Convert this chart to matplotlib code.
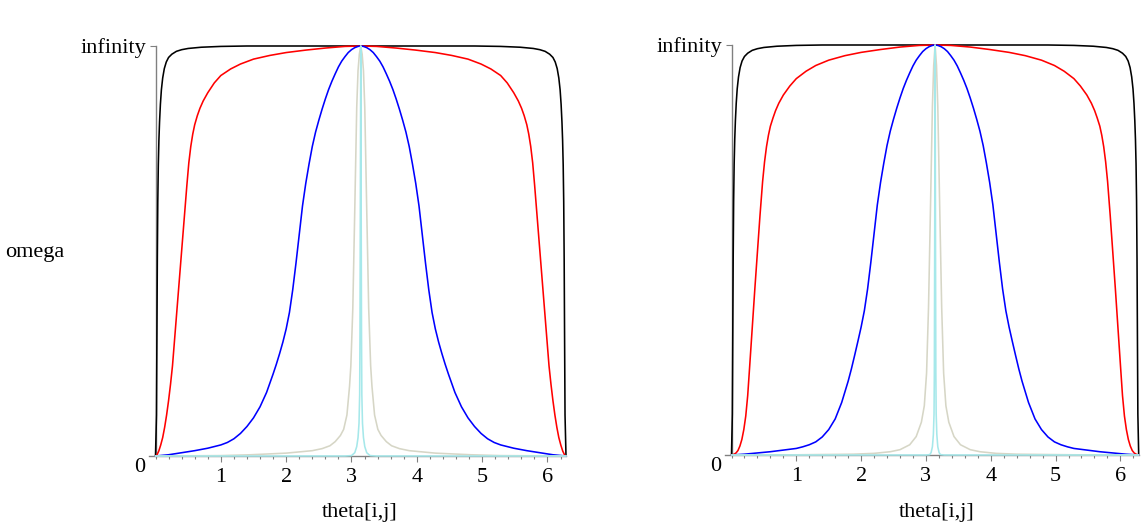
import numpy as np
import matplotlib
matplotlib.use("Agg")
import matplotlib.pyplot as plt
from matplotlib.ticker import MultipleLocator

PI = np.pi
TWO_PI = 2 * np.pi

# ---- data (left half, theta in [0, pi]; curves are mirror-symmetric about pi) ----
# Left panel
L_black_t = [0.0, 0.015, 0.022, 0.028, 0.035, 0.043, 0.052, 0.062, 0.075, 0.09, 0.11, 0.135, 0.165, 0.20, 0.25, 0.32, 0.40, 0.50, 0.70, 1.0, 1.4, PI]
L_black_y = [0.0, 0.10, 0.30, 0.48, 0.62, 0.71, 0.77, 0.815, 0.858, 0.893, 0.922, 0.945, 0.961, 0.972, 0.98, 0.987, 0.991, 0.994, 0.997, 0.999, 1.0, 1.0]

L_red_t = [0.0, 0.02, 0.05, 0.08, 0.11, 0.14, 0.17, 0.20, 0.23, 0.26, 0.30, 0.35, 0.40, 0.45, 0.48, 0.51, 0.54, 0.57,
           0.60, 0.64, 0.68, 0.73, 0.80, 0.90, 1.0, 1.15, 1.3, 1.5, 1.75, 2.0, 2.3, 2.6, 2.9, PI]
L_red_y = [0.0, 0.002, 0.012, 0.027, 0.045, 0.07, 0.10, 0.135, 0.175, 0.22, 0.30, 0.40, 0.50, 0.60, 0.66, 0.715, 0.755, 0.785,
           0.808, 0.83, 0.848, 0.866, 0.886, 0.91, 0.928, 0.944, 0.956, 0.968, 0.977, 0.984, 0.99, 0.995, 0.999, 1.0]

L_blue_t = [0.0, 0.2, 0.4, 0.6, 0.8, 1.0, 1.1, 1.2, 1.3, 1.4, 1.5, 1.6, 1.7, 1.8, 1.85, 1.9, 1.95, 2.0, 2.05, 2.10,
            2.15, 2.20, 2.25, 2.30, 2.35, 2.40, 2.45, 2.50, 2.55, 2.60, 2.65, 2.70, 2.75, 2.80, 2.85, 2.90, 2.95, 3.00,
            3.05, 3.10, PI]
L_blue_y = [0.0, 0.003, 0.008, 0.013, 0.019, 0.027, 0.033, 0.042, 0.055, 0.072, 0.093, 0.12, 0.155, 0.20, 0.224, 0.25, 0.278, 0.31, 0.35, 0.405,
            0.47, 0.54, 0.61, 0.665, 0.712, 0.755, 0.79, 0.819, 0.846, 0.871, 0.894, 0.914, 0.932, 0.949, 0.963, 0.974, 0.984, 0.991,
            0.996, 0.999, 1.0]

L_grey_t = [0.0, 1.0, 1.45, 2.0, 2.2, 2.4, 2.55, 2.67, 2.75, 2.83, 2.88, 2.93, 2.97, 2.99, 3.02, 3.05, 3.08, 3.10, 3.12, PI]
L_grey_y = [0.0, 0.001, 0.003, 0.007, 0.010, 0.013, 0.018, 0.025, 0.035, 0.05, 0.065, 0.10, 0.17, 0.22, 0.36, 0.60, 0.85, 0.94, 0.98, 1.0]

L_cyan_t = [0.0, 2.9, 3.0, 3.05, 3.08, 3.10, 3.115, 3.125, 3.13, 3.135, PI]
L_cyan_y = [0.0, 0.0, 0.001, 0.008, 0.023, 0.045, 0.08, 0.15, 0.30, 0.60, 1.0]

# Right panel
R_black_t = [0.0, 0.013, 0.02, 0.026, 0.033, 0.041, 0.05, 0.06, 0.073, 0.088, 0.108, 0.133, 0.163, 0.20, 0.25, 0.32, 0.40, 0.50, 0.70, 1.0, 1.4, PI]
R_black_y = [0.0, 0.10, 0.30, 0.48, 0.62, 0.71, 0.77, 0.815, 0.858, 0.893, 0.922, 0.945, 0.961, 0.972, 0.98, 0.987, 0.991, 0.994, 0.997, 0.999, 1.0, 1.0]

R_red_t = [0.0, 0.04, 0.07, 0.10, 0.13, 0.16, 0.19, 0.22, 0.25, 0.28, 0.32, 0.36, 0.40, 0.44, 0.48, 0.51, 0.54, 0.57,
           0.60, 0.64, 0.68, 0.73, 0.80, 0.90, 1.0, 1.15, 1.3, 1.5, 1.75, 2.0, 2.3, 2.6, 2.9, PI]
R_red_y = [0.0, 0.002, 0.005, 0.011, 0.022, 0.038, 0.062, 0.095, 0.145, 0.215, 0.31, 0.405, 0.495, 0.585, 0.667, 0.715, 0.752, 0.78,
           0.802, 0.822, 0.84, 0.858, 0.878, 0.90, 0.918, 0.936, 0.95, 0.963, 0.974, 0.982, 0.989, 0.995, 0.999, 1.0]

R_blue_t = [0.0, 0.2, 0.4, 0.6, 0.8, 1.0, 1.1, 1.2, 1.3, 1.4, 1.5, 1.6, 1.7, 1.8, 1.85, 1.9, 1.95, 2.0, 2.05, 2.10,
            2.15, 2.20, 2.25, 2.30, 2.35, 2.40, 2.45, 2.50, 2.55, 2.60, 2.65, 2.70, 2.75, 2.80, 2.85, 2.90, 2.95, 3.00,
            3.05, 3.10, PI]
R_blue_y = [0.0, 0.002, 0.005, 0.008, 0.012, 0.016, 0.02, 0.025, 0.032, 0.044, 0.062, 0.088, 0.128, 0.18, 0.21, 0.243, 0.277, 0.312, 0.352, 0.405,
            0.47, 0.54, 0.61, 0.665, 0.712, 0.755, 0.79, 0.819, 0.846, 0.871, 0.894, 0.914, 0.932, 0.949, 0.963, 0.974, 0.984, 0.991,
            0.996, 0.999, 1.0]

R_grey_t = [0.0, 1.0, 1.88, 2.2, 2.45, 2.6, 2.75, 2.85, 2.93, 2.975, 3.01, 3.04, 3.07, 3.10, 3.12, PI]
R_grey_y = [0.0, 0.0005, 0.002, 0.004, 0.008, 0.013, 0.025, 0.045, 0.08, 0.12, 0.20, 0.36, 0.60, 0.85, 0.95, 1.0]

R_cyan_t = [0.0, 3.0, 3.06, 3.08, 3.10, 3.115, 3.125, 3.13, 3.135, PI]
R_cyan_y = [0.0, 0.0, 0.001, 0.006, 0.02, 0.05, 0.10, 0.20, 0.50, 1.0]

x_ticks = [1, 2, 3, 4, 5, 6]
x_tick_labels = ["1", "2", "3", "4", "5", "6"]
y_top_label = "infinity"
y_bottom_label = "0"
x_label = "theta[i,j]"
y_label = "omega"

COLORS = ["#000000", "#ff0000", "#0000ff", "#d6d6c6", "#a6e8ea"]
SERIF = ["Liberation Serif", "DejaVu Serif"]
FS = 16
AXC = "#808080"


def mirror(t, y):
    t = np.asarray(t, float)
    y = np.asarray(y, float)
    tt = np.concatenate([t, TWO_PI - t[::-1][1:]])
    yy = np.concatenate([y, y[::-1][1:]])
    return tt, yy


W, H = 1146, 527
fig = plt.figure(figsize=(W / 100, H / 100), dpi=100)


def make_panel(px_left, px_right, px_bottom, px_top, series, label_x):
    ax = fig.add_axes([px_left / W, 1 - px_bottom / H, (px_right - px_left) / W, (px_bottom - px_top) / H])
    ax.set_xlim(0, TWO_PI)
    ax.set_ylim(0, 1)
    for s in ax.spines.values():
        s.set_visible(False)
    ax.patch.set_visible(False)
    # axes lines (Maple style)
    ax.plot([-0.1, TWO_PI], [0, 0], color=AXC, lw=1.0, clip_on=False, zorder=1)
    ax.plot([0, 0], [0, 1], color=AXC, lw=1.0, clip_on=False, zorder=1)
    for (t, y), c in zip(series, COLORS):
        tt, yy = mirror(t, y)
        ax.plot(tt, yy, color=c, lw=1.15, clip_on=False, zorder=2, solid_joinstyle="round")
    ax.set_xticks(x_ticks)
    ax.set_xticklabels(x_tick_labels, fontfamily=SERIF, fontsize=FS)
    ax.xaxis.set_minor_locator(MultipleLocator(0.2))
    ax.tick_params(axis="x", which="major", direction="out", length=4, width=0.8, color=AXC, pad=4.5)
    ax.tick_params(axis="x", which="minor", direction="out", length=2.5, width=0.8, color=AXC)
    ax.set_yticks([1])
    ax.set_yticklabels([y_top_label], fontfamily=SERIF, fontsize=FS)
    ax.tick_params(axis="y", which="major", direction="out", length=4.3, width=0.8, color=AXC, pad=2)
    ax.text(-0.24, -0.028, y_bottom_label, fontfamily=SERIF, fontsize=FS, ha="center", va="center")
    fig.text(label_x / W, 1 - 512 / H, x_label, fontfamily=SERIF, fontsize=FS, ha="center", va="center")
    return ax


make_panel(155.5, 566.0, 456, 46,
           [(L_black_t, L_black_y), (L_red_t, L_red_y), (L_blue_t, L_blue_y), (L_grey_t, L_grey_y), (L_cyan_t, L_cyan_y)],
           360)
make_panel(731.5, 1138.7, 455, 45,
           [(R_black_t, R_black_y), (R_red_t, R_red_y), (R_blue_t, R_blue_y), (R_grey_t, R_grey_y), (R_cyan_t, R_cyan_y)],
           937)

fig.text(5 / W, 1 - 253 / H, y_label, fontfamily=SERIF, fontsize=FS, ha="left", va="center")

fig.savefig("out.png", dpi=100, facecolor="white")
